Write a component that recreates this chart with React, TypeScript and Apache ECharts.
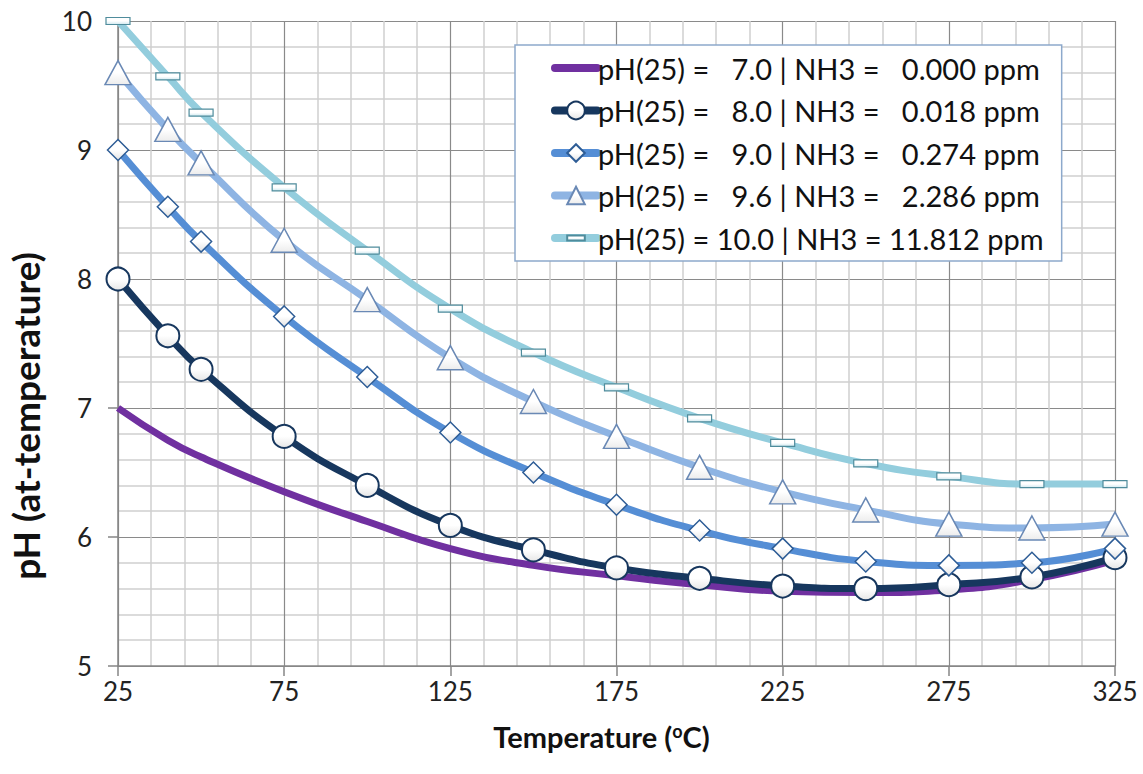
import React, { useEffect, useRef } from "react";
import * as echarts from "echarts";

const temps = [25, 40, 50, 75, 100, 125, 150, 175, 200, 225, 250, 275, 300, 325];
const ph70 = [7.0, 6.75, 6.62, 6.35, 6.12, 5.91, 5.78, 5.7, 5.63, 5.58, 5.57, 5.59, 5.67, 5.82];
const ph80 = [8.0, 7.56, 7.3, 6.78, 6.4, 6.09, 5.9, 5.76, 5.68, 5.62, 5.6, 5.63, 5.69, 5.84];
const ph90 = [9.0, 8.56, 8.29, 7.71, 7.24, 6.81, 6.5, 6.25, 6.05, 5.91, 5.81, 5.78, 5.8, 5.91];
const ph96 = [9.6, 9.16, 8.9, 8.3, 7.84, 7.39, 7.05, 6.78, 6.54, 6.35, 6.21, 6.1, 6.07, 6.1];
const ph100 = [10.0, 9.57, 9.29, 8.71, 8.22, 7.77, 7.43, 7.16, 6.92, 6.73, 6.57, 6.47, 6.41, 6.41];

const seriesNames = [
  "pH(25) =   7.0 | NH3 =   0.000 ppm",
  "pH(25) =   8.0 | NH3 =   0.018 ppm",
  "pH(25) =   9.0 | NH3 =   0.274 ppm",
  "pH(25) =   9.6 | NH3 =   2.286 ppm",
  "pH(25) = 10.0 | NH3 = 11.812 ppm",
];
const yTitle = "pH (at-temperature)";

const FONT = "Lato, 'Open Sans', sans-serif";

const pair = (vals: number[]) => temps.map((t, i) => [t, vals[i]]);

const whiteGrad = (c2: string) =>
  new echarts.graphic.LinearGradient(0, 0, 0, 1, [
    { offset: 0, color: "#ffffff" },
    { offset: 0.5, color: "#ffffff" },
    { offset: 1, color: c2 },
  ]);

// flat dash drawn inside a square box so the legend keeps its proportions
const DASH = "path://M0,0 L0,0 M24,24 L24,24 M0,8.5 L24,8.5 L24,15.5 L0,15.5 Z";

export default function App() {
  const ref = useRef<HTMLDivElement>(null);
  useEffect(() => {
    if (!ref.current) return;
    const chart = echarts.init(ref.current, null, { renderer: "svg" });
    const lineW = 7;
    chart.setOption({
      animation: false,
      backgroundColor: "#ffffff",
      textStyle: { fontFamily: FONT },
      grid: { left: 118, right: 28, top: 21, bottom: 108, containLabel: false },
      legend: {
        orient: "vertical",
        left: 515,
        top: 45,
        backgroundColor: "#ffffff",
        borderColor: "#8DA9CC",
        borderWidth: 1.5,
        borderRadius: 0,
        padding: [8, 18, 8, 36],
        itemWidth: 42,
        itemHeight: 22,
        itemGap: 12.5,
        lineStyle: { width: 8, cap: "round" },
        textStyle: { fontFamily: FONT, fontSize: 29, color: "#111", lineHeight: 30, padding: [0, 0, 0, -4] },
        data: [
          { name: seriesNames[0], itemStyle: { opacity: 0 } },
          seriesNames[1],
          seriesNames[2],
          seriesNames[3],
          seriesNames[4],
        ],
      },
      xAxis: {
        type: "value",
        min: 25,
        max: 325,
        interval: 50,
        name: "Temperature ({sup|o}C)",
        nameLocation: "middle",
        nameGap: 56,
        nameTextStyle: {
          fontFamily: FONT,
          fontSize: 29,
          fontWeight: "bold",
          color: "#111",
          padding: [0, 30, 0, 0],
          rich: { sup: { fontSize: 18, fontWeight: "bold", color: "#111", verticalAlign: "top", padding: [0, 0, 10, 0] } },
        },
        axisLine: { show: true, lineStyle: { color: "#868686", width: 1.5 } },
        axisTick: { show: true, inside: false, length: 10, lineStyle: { color: "#868686", width: 1.5 } },
        axisLabel: { fontFamily: FONT, fontSize: 26, color: "#222", margin: 12 },
        splitLine: { show: true, lineStyle: { color: "#8a8a8a", width: 1.2 } },
        minorTick: { show: false, splitNumber: 5 },
        minorSplitLine: { show: true, lineStyle: { color: "#cfcfcf", width: 1.5 } },
      },
      yAxis: {
        type: "value",
        min: 5,
        max: 10,
        interval: 1,
        axisLine: { show: true, lineStyle: { color: "#868686", width: 1.5 } },
        axisTick: { show: true, inside: false, length: 10, lineStyle: { color: "#868686", width: 1.5 } },
        axisLabel: { fontFamily: FONT, fontSize: 26, color: "#222", margin: 26 },
        splitLine: { show: true, lineStyle: { color: "#8a8a8a", width: 1.2 } },
        minorTick: { show: false, splitNumber: 5 },
        minorSplitLine: { show: true, lineStyle: { color: "#cfcfcf", width: 1.5 } },
      },
      graphic: [
        {
          type: "text",
          x: 25,
          y: 416,
          rotation: Math.PI / 2,
          style: {
            text: yTitle,
            fontFamily: FONT,
            fontSize: 37,
            fontWeight: "bold",
            fill: "#111",
            align: "center",
            verticalAlign: "middle",
          },
        },
      ],
      series: [
        {
          name: seriesNames[0],
          type: "line",
          data: pair(ph70),
          smooth: 0.5,
          clip: false,
          symbol: "none",
          lineStyle: { color: "#7030A0", width: lineW },
          itemStyle: { color: "#7030A0" },
        },
        {
          name: seriesNames[1],
          type: "line",
          data: pair(ph80),
          smooth: 0.5,
          clip: false,
          symbol: "circle",
          symbolSize: 23,
          lineStyle: { color: "#17375E", width: lineW },
          itemStyle: { color: whiteGrad("#e6e6e6"), borderColor: "#17375E", borderWidth: 2 },
        },
        {
          name: seriesNames[2],
          type: "line",
          data: pair(ph90),
          smooth: 0.5,
          clip: false,
          symbol: "diamond",
          symbolSize: 21,
          lineStyle: { color: "#558ED5", width: lineW },
          itemStyle: { color: whiteGrad("#e2e2e2"), borderColor: "#2E5D96", borderWidth: 1.5 },
        },
        {
          name: seriesNames[3],
          type: "line",
          data: pair(ph96),
          smooth: 0.5,
          clip: false,
          symbol: "triangle",
          symbolSize: [26, 24],
          lineStyle: { color: "#8EB4E3", width: lineW },
          itemStyle: { color: whiteGrad("#ececec"), borderColor: "#6A89B5", borderWidth: 1.5 },
        },
        {
          name: seriesNames[4],
          type: "line",
          data: pair(ph100),
          smooth: 0.5,
          clip: false,
          symbol: DASH,
          symbolSize: 24,
          lineStyle: { color: "#93CDDD", width: lineW },
          itemStyle: { color: whiteGrad("#cfe8ef"), borderColor: "#4F8C9C", borderWidth: 1.2 },
        },
      ],
    });
    return () => chart.dispose();
  }, []);
  return (
    <div
      ref={ref}
      style={{ position: "absolute", left: 0, top: 0, width: 1143, height: 774, background: "#fff" }}
    />
  );
}
